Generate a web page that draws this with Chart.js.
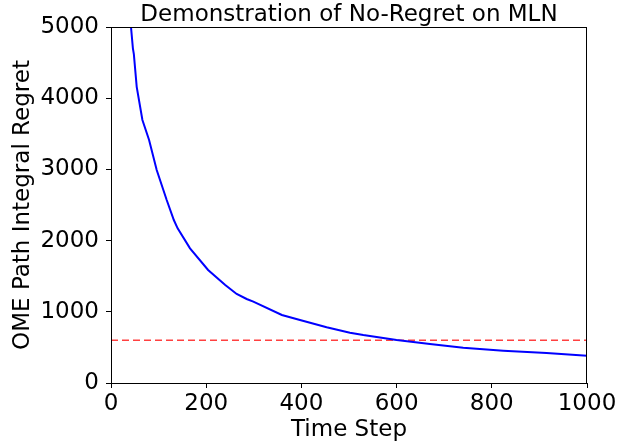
<!DOCTYPE html>
<html>
<head>
<meta charset="utf-8">
<script src="https://cdn.jsdelivr.net/npm/chart.js@4"></script>
<style>
  body { margin: 0; background: #fff; }
  #wrap { width: 619px; height: 448px; }
</style>
</head>
<body>
<div id="wrap"><canvas id="regretChart" width="619" height="448"></canvas></div>
<script>
// values
const timeSteps = [30, 42, 46, 48, 54, 66, 80, 96, 110, 117, 132, 140, 166, 204, 240, 264, 285, 299, 359, 397, 453, 502, 530, 600, 670, 740, 824, 915, 1000];
const regret = [6400, 5000, 4700, 4620, 4160, 3694, 3413, 2992, 2711, 2570, 2289, 2172, 1891, 1587, 1376, 1250, 1180, 1142, 955, 885, 782, 707, 674, 604, 548, 496, 454, 421, 382];
const baselineValue = 600;
const xTicks = [0, 200, 400, 600, 800, 1000];
const yTicks = [0, 1000, 2000, 3000, 4000, 5000];

const font = "DejaVu Sans";

// spines all round + title, matplotlib style
const framePlugin = {
  id: "frame",
  afterDraw(chart) {
    const { ctx, chartArea: a } = chart;
    ctx.save();
    ctx.strokeStyle = "#000";
    ctx.lineWidth = 1;
    ctx.strokeRect(a.left + 0.5, a.top + 0.5, a.right - a.left - 1, a.bottom - a.top);
    ctx.fillStyle = "#000";
    ctx.font = "23px '" + font + "'";
    ctx.textAlign = "center";
    ctx.textBaseline = "alphabetic";
    ctx.fillText("Demonstration of No-Regret on MLN", (a.left + a.right) / 2, 21);
    ctx.restore();
  }
};

new Chart(document.getElementById("regretChart"), {
  type: "line",
  data: {
    datasets: [
      {
        data: timeSteps.map((t, i) => ({ x: t, y: regret[i] })),
        borderColor: "#0000ff",
        borderWidth: 2,
        pointRadius: 0,
        tension: 0
      },
      {
        data: [{ x: 0, y: baselineValue }, { x: 1000, y: baselineValue }],
        borderColor: "rgba(255,0,0,0.75)",
        borderWidth: 1.6,
        borderDash: [7, 4],
        pointRadius: 0
      }
    ]
  },
  options: {
    responsive: false,
    animation: false,
    layout: { padding: { top: 27, right: 32, left: 0, bottom: 0 } },
    plugins: { legend: { display: false }, tooltip: { enabled: false } },
    scales: {
      x: {
        type: "linear",
        min: 0,
        max: 1000,
        afterBuildTicks: s => { s.ticks = xTicks.map(v => ({ value: v })); },
        afterFit: s => { s.height = 65; },
        grid: { drawOnChartArea: false, tickLength: 5, color: "#000" },
        border: { color: "#000" },
        ticks: { color: "#000", font: { family: font, size: 23 }, padding: 2, maxRotation: 0, callback: v => String(v) },
        title: { display: true, text: "Time Step", color: "#000", font: { family: font, size: 23 }, padding: { top: 4, bottom: 4 } }
      },
      y: {
        min: 0,
        max: 5000,
        afterBuildTicks: s => { s.ticks = yTicks.map(v => ({ value: v })); },
        afterFit: s => { s.width = 111; },
        grid: { drawOnChartArea: false, tickLength: 5, color: "#000" },
        border: { color: "#000" },
        ticks: { color: "#000", font: { family: font, size: 23 }, padding: 7, callback: v => String(v) },
        title: { display: true, text: "OME Path Integral Regret", color: "#000", font: { family: font, size: 23 }, padding: { top: 9, bottom: 0 } }
      }
    }
  },
  plugins: [framePlugin]
});
</script>
</body>
</html>
